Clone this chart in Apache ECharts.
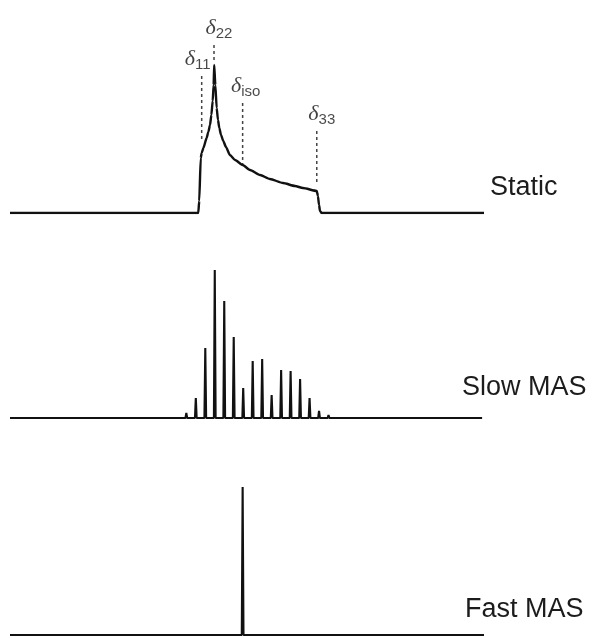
<!DOCTYPE html>
<html>
<head>
<meta charset="utf-8">
<script src="https://cdn.jsdelivr.net/npm/echarts@6/dist/echarts.min.js"></script>
<style>
html,body{margin:0;padding:0;background:#fff;}
#c{width:592px;height:638px;}
</style>
</head>
<body>
<div id="c"></div>
<script>
// ---- Data (chemical shift in ppm, intensity in arbitrary units) ----
// Static powder pattern
const staticPpm = [250, 150.7, 150.2, 149.4, 148.9, 148.0, 146.3, 145.4, 144.5, 143.8, 143.1, 142.6, 142.3, 141.7, 141.0, 140.3, 139.6, 138.7, 137.5, 136.1, 134.0, 131.3, 127.3, 123.4, 118.1, 112.9, 106.0, 99.7, 95.5, 88.2, 87.6, 87.0, 86.5, 85.6, 0];
const staticInt = [0, 0, 12, 55, 60, 65, 75, 81, 88, 98, 112, 128, 148, 128, 105, 93, 85, 78, 72, 66, 58, 53, 48, 43, 38, 34, 30, 27, 25, 22, 17, 8, 2, 0, 0];
// Principal components (dashed markers)
const deltaSub = ['11', '22', 'iso', '33'];
const deltaPpm = [148.9, 142.4, 127.3, 88.2];
const deltaTop = [137, 168, 110, 82];
const deltaBottom = [73, 153, 48, 30];
// Slow MAS spinning sidebands
const slowPpm = [162, 157, 152, 147, 142, 137, 132, 127, 122, 117, 112, 107, 102, 97, 92, 87, 82];
const slowInt = [1, 5, 20, 70, 148, 117, 81, 30, 57, 59, 23, 48, 47, 39, 20, 7, 3];
// Fast MAS isotropic line
const fastPpm = [127.3];
const fastInt = [148];
// Panel labels
const panelLabels = ['Static', 'Slow MAS', 'Fast MAS'];

// ---- Build series data ----
function spikes(ppm, inten, start, end, dw) {
  const d = [[start, 0]];
  for (let i = 0; i < ppm.length; i++) {
    d.push([ppm[i] + dw, 0]);
    d.push([ppm[i], inten[i]]);
    d.push([ppm[i] - dw, 0]);
  }
  d.push([end, 0]);
  return d;
}
const staticData = staticPpm.map((p, i) => [p, staticInt[i]]);
const labelOffsets = [-4, 5, 3, 5];

const chart = echarts.init(document.getElementById('c'), null, {renderer: 'canvas'});

const xBase = {type: 'value', min: 0, max: 250, inverse: true, show: false};
const grids = [
  {left: 10, width: 474, top: 13, height: 200},
  {left: 10, width: 474, top: 268, height: 150},
  {left: 10, width: 474, top: 485, height: 150}
];
const yMax = [200, 150, 150];

const series = [];
series.push({
  type: 'line', xAxisIndex: 0, yAxisIndex: 0, data: staticData,
  showSymbol: false, symbol: 'none', smooth: 0.2, smoothMonotone: 'x',
  lineStyle: {color: '#111', width: 2.4}, silent: true, animation: false, z: 3
});
deltaSub.forEach((s, i) => {
  series.push({
    type: 'line', xAxisIndex: 0, yAxisIndex: 0,
    data: [[deltaPpm[i], deltaTop[i]], [deltaPpm[i], deltaBottom[i]]],
    showSymbol: false, symbol: 'none',
    lineStyle: {color: '#444', width: 1.5, type: [3, 3]},
    silent: true, animation: false, z: 2
  });
});
series.push({
  type: 'scatter', xAxisIndex: 0, yAxisIndex: 0,
  symbol: 'circle', symbolSize: 1,
  itemStyle: {color: 'rgba(0,0,0,0)'},
  data: deltaSub.map((s, i) => ({
    name: s, value: [deltaPpm[i], deltaTop[i]],
    label: {offset: [labelOffsets[i], 0]}
  })),
  label: {
    show: true, position: 'top', distance: 3,
    formatter: p => '{d|δ}{s|' + p.name + '}',
    rich: {
      d: {fontFamily: 'Liberation Serif', fontStyle: 'italic', fontSize: 22, color: '#111', lineHeight: 24, verticalAlign: 'top'},
      s: {fontFamily: 'Liberation Sans', fontSize: 15, color: '#1a1a1a', lineHeight: 24, padding: [9, 0, 0, 0], verticalAlign: 'bottom'}
    }
  },
  silent: true, animation: false, z: 4
});
series.push({
  type: 'line', xAxisIndex: 1, yAxisIndex: 1,
  data: spikes(slowPpm, slowInt, 250, 1, 0.45),
  showSymbol: false, symbol: 'none',
  lineStyle: {color: '#111', width: 2.1}, silent: true, animation: false
});
series.push({
  type: 'line', xAxisIndex: 2, yAxisIndex: 2,
  data: spikes(fastPpm, fastInt, 250, 0, 0.45),
  showSymbol: false, symbol: 'none',
  lineStyle: {color: '#111', width: 2.1}, silent: true, animation: false
});

const labelPos = [[490, 188], [462, 388], [465, 610]];

chart.setOption({
  backgroundColor: '#fff',
  animation: false,
  grid: grids,
  xAxis: grids.map((g, i) => Object.assign({gridIndex: i}, xBase)),
  yAxis: grids.map((g, i) => ({type: 'value', gridIndex: i, min: 0, max: yMax[i], show: false})),
  series: series,
  graphic: panelLabels.map((t, i) => ({
    type: 'text', left: labelPos[i][0], top: labelPos[i][1] - 14,
    style: {text: t, fontFamily: 'Liberation Sans', fontSize: 27, fill: '#1c1c1c'}
  }))
});
</script>
</body>
</html>
